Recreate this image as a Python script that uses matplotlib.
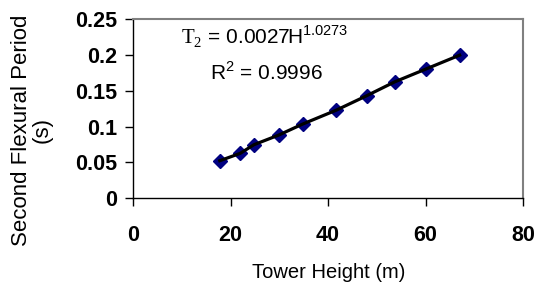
import matplotlib
matplotlib.use("Agg")
import matplotlib.pyplot as plt

height_m = [17.8, 22.0, 24.8, 29.9, 34.8, 41.7, 47.9, 53.7, 60.0, 67.0]
period_s = [0.0524, 0.0627, 0.0747, 0.0882, 0.1035, 0.1229, 0.1429, 0.1624, 0.1800, 0.1996]
x_ticks = [0, 20, 40, 60, 80]
y_ticks = [0, 0.05, 0.1, 0.15, 0.2, 0.25]
y_tick_labels = ["0", "0.05", "0.1", "0.15", "0.2", "0.25"]

plt.rcParams['font.family'] = ['Liberation Sans', 'DejaVu Sans']
plt.rcParams['mathtext.fontset'] = 'custom'
plt.rcParams['mathtext.rm'] = 'Liberation Serif'
plt.rcParams['mathtext.sf'] = 'Liberation Sans'

fig = plt.figure(figsize=(5.35, 2.86), dpi=100)
ax = fig.add_axes([0.2486, 0.3066, 0.7290, 0.6270])

ax.plot(height_m, period_s, linestyle='none', marker='D', markersize=7,
        markerfacecolor='#000080', markeredgecolor='#000080', zorder=2)
ax.plot(height_m, period_s, color='black', linewidth=2.3, zorder=3)

ax.set_xlim(0, 80)
ax.set_ylim(0, 0.25)
ax.set_xticks(x_ticks)
ax.set_xticklabels([str(v) for v in x_ticks], fontweight='bold', fontsize=15.5)
ax.set_yticks(y_ticks)
ax.set_yticklabels(y_tick_labels, fontweight='bold', fontsize=15.5)
ax.tick_params(axis='x', direction='out', length=5.5, width=1, pad=14)
ax.tick_params(axis='y', direction='out', length=5.5, width=1, pad=6)

for s in ['left', 'bottom']:
    ax.spines[s].set_color('black')
    ax.spines[s].set_linewidth(1.0)
for s in ['top', 'right']:
    ax.spines[s].set_color('#808080')
    ax.spines[s].set_linewidth(1.5)

ax.text(181 / 535, 1 - 44 / 286,
        r"$\mathrm{T}_{\mathrm{2}}$ = 0.0027H$^{\mathsf{1.0273}}$",
        transform=fig.transFigure, fontsize=15, ha='left', va='baseline')
ax.text(210 / 535, 1 - 80 / 286, r"R$^{\mathsf{2}}$ = 0.9996",
        transform=fig.transFigure, fontsize=15, ha='left', va='baseline')

fig.text(329 / 535, 1 - 273 / 286, "Tower Height (m)", fontsize=14.5,
         ha='center', va='center')
fig.text(32 / 535, 1 - 130 / 286, "Second Flexural Period\n(s)", fontsize=16,
         ha='center', va='center', rotation=90, multialignment='center',
         linespacing=1.0)

fig.savefig("out.png", dpi=100)
